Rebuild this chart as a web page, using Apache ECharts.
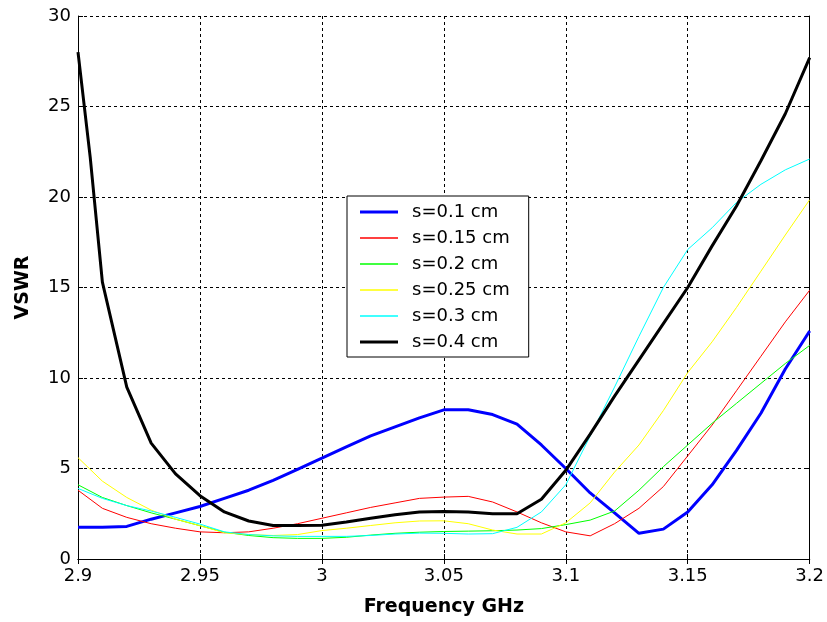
<!DOCTYPE html>
<html>
<head>
<meta charset="utf-8">
<script src="https://cdn.jsdelivr.net/npm/echarts@6/dist/echarts.min.js"></script>
<style>html,body{margin:0;padding:0;background:#fff;}#c{width:827px;height:622px;}</style>
</head>
<body>
<div id="c"></div>
<script>
const freq = [2.90,2.91,2.92,2.93,2.94,2.95,2.96,2.97,2.98,2.99,3.00,3.01,3.02,3.03,3.04,3.05,3.06,3.07,3.08,3.09,3.10,3.11,3.12,3.13,3.14,3.15,3.16,3.17,3.18,3.19,3.20];
const freqBlack = [2.90,2.905,2.91,2.92,2.93,2.94,2.95,2.96,2.97,2.98,2.99,3.00,3.01,3.02,3.03,3.04,3.05,3.06,3.07,3.08,3.09,3.10,3.11,3.12,3.13,3.14,3.15,3.16,3.17,3.18,3.19,3.20];
const s010 = [1.75,1.75,1.8,2.2,2.55,2.9,3.35,3.8,4.35,4.95,5.57,6.2,6.8,7.3,7.8,8.24,8.25,7.98,7.45,6.3,5.0,3.65,2.55,1.42,1.65,2.6,4.1,6.0,8.05,10.5,12.6];
const s015 = [3.8,2.8,2.3,1.95,1.7,1.5,1.45,1.5,1.7,1.95,2.25,2.55,2.85,3.1,3.35,3.42,3.46,3.15,2.6,2.0,1.5,1.28,1.95,2.8,4.0,5.7,7.4,9.3,11.2,13.1,14.85];
const s020 = [4.1,3.4,2.95,2.55,2.2,1.84,1.48,1.3,1.18,1.14,1.14,1.2,1.32,1.42,1.48,1.52,1.54,1.56,1.6,1.68,1.9,2.15,2.65,3.8,5.1,6.3,7.5,8.6,9.7,10.8,11.8];
const s025 = [5.6,4.3,3.4,2.7,2.2,1.84,1.45,1.35,1.3,1.35,1.57,1.7,1.85,2.0,2.1,2.11,1.95,1.6,1.38,1.38,2.0,3.1,4.8,6.3,8.2,10.3,12.0,13.9,15.9,17.9,19.85];
const s030 = [3.9,3.35,2.95,2.65,2.3,1.93,1.5,1.35,1.28,1.25,1.25,1.25,1.3,1.38,1.43,1.42,1.38,1.4,1.75,2.6,4.1,6.8,9.5,12.3,15.0,17.1,18.3,19.7,20.7,21.5,22.1];
const s040 = [28,22.2,15.3,9.5,6.4,4.7,3.5,2.6,2.1,1.85,1.85,1.87,2.05,2.25,2.45,2.6,2.62,2.6,2.5,2.5,3.3,4.9,6.9,9.0,11.0,13.0,15.0,17.3,19.5,22.0,24.6,27.7];
const names = ['s=0.1 cm','s=0.15 cm','s=0.2 cm','s=0.25 cm','s=0.3 cm','s=0.4 cm'];
const colors = ['#0000ff','#ff0000','#00ff00','#ffff00','#00ffff','#000000'];
const widths = [3,1,1,1,1,3];
const xTicks = {min:2.9, max:3.2, interval:0.05};
const yTicks = {min:0, max:30, interval:5};

const seriesVals = [s010,s015,s020,s025,s030,s040];
const seriesFreq = [freq,freq,freq,freq,freq,freqBlack];

const font = 'DejaVu Sans';
const chart = echarts.init(document.getElementById('c'), null, {renderer:'canvas'});
const fmtX = v => String(parseFloat(v.toFixed(2)));
const baseAxis = {
  axisLine:{show:true, lineStyle:{color:'#000', width:1}},
  axisTick:{show:true, inside:true, length:5, lineStyle:{color:'#000'}},
  splitLine:{show:false},
};
const iconThick = 'path://M0,0L38,0L38,3L0,3Z';
const iconThin = 'path://M0,0L38,0L38,1.6L0,1.6Z';
chart.setOption({
  animation:false,
  backgroundColor:'#fff',
  grid:{left:78, right:17, top:16, bottom:62, show:false},
  legend:{
    orient:'vertical', left:347, top:196,
    padding:[7,19,6,13],
    itemGap:8, itemWidth:38, itemHeight:14,
    backgroundColor:'#fff', borderColor:'#000', borderWidth:1, borderRadius:0,
    formatter: n => '{a|' + n + '}',
    textStyle:{fontFamily:font, fontSize:18, color:'#000', lineHeight:18,
      rich:{a:{fontFamily:font, fontSize:18, color:'#000', padding:[0,0,0,9], lineHeight:18}}},
    data: names.map((n,i)=>({name:n, icon: widths[i] > 1 ? iconThick : iconThin, itemStyle:{color:colors[i]}}))
  },
  xAxis:[
    Object.assign({}, baseAxis, {
      type:'value', min:xTicks.min, max:xTicks.max, interval:xTicks.interval, position:'bottom',
      axisLabel:{formatter:fmtX, fontFamily:font, fontSize:18, color:'#000', margin:8},
      splitLine:{show:true, lineStyle:{color:'#000', type:[3,3], width:1}},
      name:'Frequency GHz', nameLocation:'middle', nameGap:39,
      nameTextStyle:{fontFamily:font, fontSize:19, fontWeight:'bold', color:'#000'}
    }),
    Object.assign({}, baseAxis, {
      type:'value', min:xTicks.min, max:xTicks.max, interval:xTicks.interval, position:'top',
      axisLabel:{show:false}
    })
  ],
  yAxis:[
    Object.assign({}, baseAxis, {
      type:'value', min:yTicks.min, max:yTicks.max, interval:yTicks.interval, position:'left',
      axisLabel:{fontFamily:font, fontSize:18, color:'#000', margin:7},
      splitLine:{show:true, lineStyle:{color:'#000', type:[3,3], width:1}},
      name:'VSWR', nameLocation:'middle', nameGap:45, nameRotate:90,
      nameTextStyle:{fontFamily:font, fontSize:19, fontWeight:'bold', color:'#000'}
    }),
    Object.assign({}, baseAxis, {
      type:'value', min:yTicks.min, max:yTicks.max, interval:yTicks.interval, position:'right',
      axisLabel:{show:false}
    })
  ],
  series: names.map((n,i)=>({
    name:n, type:'line', symbol:'none', smooth:false,
    xAxisIndex:0, yAxisIndex:0,
    lineStyle:{color:colors[i], width:widths[i]},
    itemStyle:{color:colors[i]},
    data: seriesFreq[i].map((f,j)=>[f, seriesVals[i][j]])
  }))
});
</script>
</body>
</html>
